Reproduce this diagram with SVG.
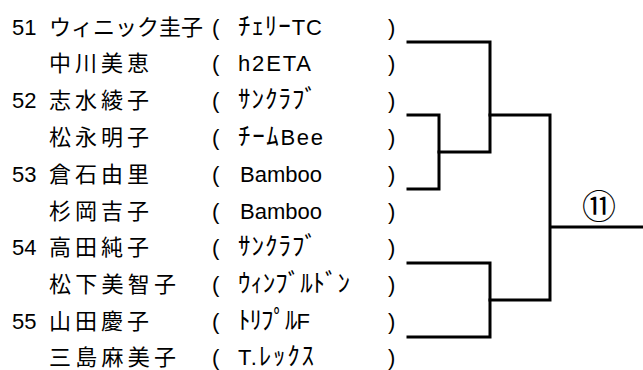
<svg xmlns="http://www.w3.org/2000/svg" width="643" height="370" viewBox="0 0 643 370">
<style>
text{font-family:"Liberation Sans","Noto Sans CJK JP",sans-serif;font-size:22px;fill:#000}
.nm{font-family:"Noto Sans CJK JP",sans-serif;font-size:22px}
.tm{font-family:"Liberation Sans","Noto Sans CJK JP",sans-serif;font-size:22px}
.k{font-family:"Noto Sans CJK JP",sans-serif;font-size:25px}
.p{font-family:"Liberation Sans",sans-serif;font-size:22px}
.ln{fill:none;stroke:#000;stroke-width:3;stroke-linecap:square;stroke-linejoin:miter}
</style>
<rect width="643" height="370" fill="#fff"/>
<g id="entry51"><text x="12" y="34.5">51</text><text class="nm" x="49" y="34.5" textLength="154">ウィニック圭子</text><text class="p" x="212" y="34.5">(</text><text class="tm" x="238" y="34.5" textLength="84"><tspan class="k">ﾁｪﾘｰ</tspan>TC</text><text class="p" x="388" y="34.5">)</text></g>
<g id="entry51b"><text class="nm" x="49" y="71.3" textLength="100">中川美恵</text><text class="p" x="212" y="71.3">(</text><text class="tm" x="238" y="71.3" textLength="73">h2ETA</text><text class="p" x="388" y="71.3">)</text></g>
<g id="entry52"><text x="12" y="108.1">52</text><text class="nm" x="49" y="108.1" textLength="100">志水綾子</text><text class="p" x="212" y="108.1">(</text><text class="tm" x="238" y="108.1" textLength="79"><tspan class="k">ｻﾝｸﾗﾌﾞ</tspan></text><text class="p" x="388" y="108.1">)</text></g>
<g id="entry52b"><text class="nm" x="49" y="144.9" textLength="100">松永明子</text><text class="p" x="212" y="144.9">(</text><text class="tm" x="238" y="144.9" textLength="85"><tspan class="k">ﾁｰﾑ</tspan>Bee</text><text class="p" x="388" y="144.9">)</text></g>
<g id="entry53"><text x="12" y="181.7">53</text><text class="nm" x="49" y="181.7" textLength="100">倉石由里</text><text class="p" x="212" y="181.7">(</text><text class="tm" x="240" y="181.7" textLength="82">Bamboo</text><text class="p" x="388" y="181.7">)</text></g>
<g id="entry53b"><text class="nm" x="49" y="218.5" textLength="100">杉岡吉子</text><text class="p" x="212" y="218.5">(</text><text class="tm" x="240" y="218.5" textLength="82">Bamboo</text><text class="p" x="388" y="218.5">)</text></g>
<g id="entry54"><text x="12" y="255.3">54</text><text class="nm" x="49" y="255.3" textLength="100">高田純子</text><text class="p" x="212" y="255.3">(</text><text class="tm" x="238" y="255.3" textLength="79"><tspan class="k">ｻﾝｸﾗﾌﾞ</tspan></text><text class="p" x="388" y="255.3">)</text></g>
<g id="entry54b"><text class="nm" x="49" y="292.1" textLength="127">松下美智子</text><text class="p" x="212" y="292.1">(</text><text class="tm" x="238" y="292.1" textLength="112"><tspan class="k">ｳｨﾝﾌﾞﾙﾄﾞﾝ</tspan></text><text class="p" x="388" y="292.1">)</text></g>
<g id="entry55"><text x="12" y="328.9">55</text><text class="nm" x="49" y="328.9" textLength="100">山田慶子</text><text class="p" x="212" y="328.9">(</text><text class="tm" x="238" y="328.9" textLength="72"><tspan class="k">ﾄﾘﾌﾟﾙ</tspan>F</text><text class="p" x="388" y="328.9">)</text></g>
<g id="entry55b"><text class="nm" x="49" y="364.5" textLength="127">三島麻美子</text><text class="p" x="212" y="364.5">(</text><text class="tm" x="238" y="364.5" textLength="76">T.<tspan class="k">ﾚｯｸｽ</tspan></text><text class="p" x="388" y="364.5">)</text></g>
<g id="connectors">
<path class="ln" d="M408 42H490V152H439"/>
<path class="ln" d="M408 115H439V189H408"/>
<path class="ln" d="M490 115H550V300H490"/>
<path class="ln" d="M408 263H490V337H408"/>
<path d="M550 227H643" fill="none" stroke="#000" stroke-width="3"/>
</g>
<g id="match11"><text x="599" y="219" text-anchor="middle" style="font-family:'Noto Sans CJK JP',sans-serif;font-size:34px">⑪</text></g>
</svg>
